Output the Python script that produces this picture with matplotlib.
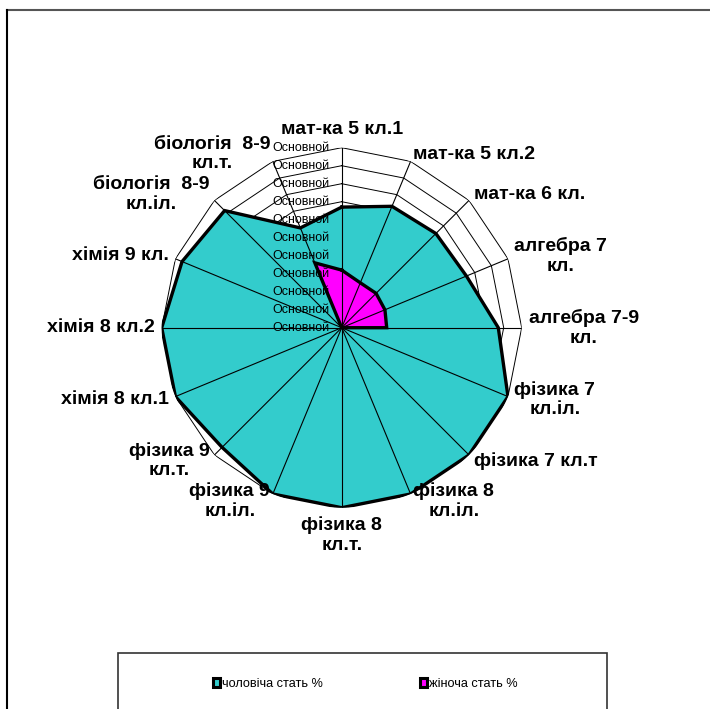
import numpy as np
import matplotlib
matplotlib.use("Agg")
import matplotlib.pyplot as plt
from matplotlib.lines import Line2D
from matplotlib.patches import Patch, Rectangle

plt.rcParams['font.family'] = ['Liberation Sans', 'DejaVu Sans']

# дані
categories = ['мат-ка 5 кл.1', 'мат-ка 5 кл.2', 'мат-ка 6 кл.', 'алгебра 7\nкл.',
              'алгебра 7-9\nкл.', 'фізика 7\nкл.іл.', 'фізика 7 кл.т', 'фізика 8\nкл.іл.',
              'фізика 8\nкл.т.', 'фізика 9\nкл.іл.', 'фізика 9\nкл.т.', 'хімія 8 кл.1',
              'хімія 8 кл.2', 'хімія 9 кл.', 'біологія  8-9\nкл.іл.', 'біологія  8-9\nкл.т.']
male = [67, 73, 74, 75, 87, 100, 100, 100, 100, 100, 94, 100, 100, 96, 92, 60]
female = [32, 27, 27, 26, 25, 0, 0, 0, 0, 0, 0, 0, 0, 0, 0, 39]
levels = [0, 10, 20, 30, 40, 50, 60, 70, 80, 90, 100]
level_label = 'Основной'
series_names = ['чоловіча стать %', 'жіноча стать %']
colors = ['#33CCCC', '#FF00FF']

W, H = 710, 709
fig = plt.figure(figsize=(W / 100, H / 100), dpi=100)
cx, cy, R = 341.7, 327.7, 180
ax = fig.add_axes([(cx - R) / W, (H - cy - R) / H, 2 * R / W, 2 * R / H], projection='polar')
ax.set_theta_zero_location('N')
ax.set_theta_direction(-1)
ax.set_ylim(0, 100)
ax.set_xticks([])
ax.set_yticks([])
ax.grid(False)
ax.spines['polar'].set_visible(False)
ax.patch.set_visible(False)

n = len(categories)
theta = np.arange(n) * 2 * np.pi / n
tc = np.append(theta, theta[0])

# кільця сітки
for lv in levels[1:]:
    ax.plot(tc, [lv] * (n + 1), color='black', lw=0.7, zorder=1)

for vals, col, z in [(male, colors[0], 2), (female, colors[1], 2.1)]:
    v = np.append(vals, vals[0])
    ax.fill(tc, v, facecolor=col, edgecolor='none', zorder=z)

# промені
for t in theta:
    ax.plot([t, t], [0, 100], color='black', lw=0.8, zorder=3)

for vals, z in [(male, 4), (female, 4.1)]:
    v = np.append(vals, vals[0])
    ax.plot(tc, v, color='black', lw=2.4, zorder=z, solid_joinstyle='miter')

# підписи рівнів
for lv in levels:
    ax.annotate(level_label, xy=(0, lv), xytext=(-12, 0), textcoords='offset pixels',
                ha='right', va='center', fontsize=9, zorder=5)

# підписи категорій
for t, lab in zip(theta, categories):
    s, c = np.sin(t), np.cos(t)
    if abs(s) < 1e-6:
        ha = 'center'
        va = 'bottom' if c > 0 else 'top'
        off = (0, 10 if c > 0 else -9)
    else:
        ha = 'left' if s > 0 else 'right'
        va = 'center'
        off = (7 * s, 8 * c)
    ax.annotate(lab, xy=(t, 100), xytext=off, textcoords='offset pixels',
                ha=ha, va=va, multialignment='center', fontsize=14,
                fontweight='bold', zorder=5, linespacing=1.2)

# рамка
fig.add_artist(Line2D([7 / W, 1], [1 - 10 / H, 1 - 10 / H], color='#555555', lw=1.5))
fig.add_artist(Line2D([7 / W, 7 / W], [0, 1 - 10 / H], color='black', lw=1.5))
fig.add_artist(Rectangle((118 / W, -0.05), (607 - 118) / W, 0.05 + (H - 653) / H,
                         transform=fig.transFigure, fill=False, edgecolor='#333333', lw=1.2))

handles = [Patch(facecolor=colors[0], edgecolor='black', lw=2.2),
           Patch(facecolor=colors[1], edgecolor='black', lw=2.2)]
fig.legend(handles, series_names, loc='center', bbox_to_anchor=(365 / W, 1 - 684 / H),
           ncol=2, frameon=False, fontsize=9.2, handlelength=0.6, handleheight=0.6,
           handletextpad=0.1, columnspacing=7.6)

fig.savefig('out.png', dpi=100)
